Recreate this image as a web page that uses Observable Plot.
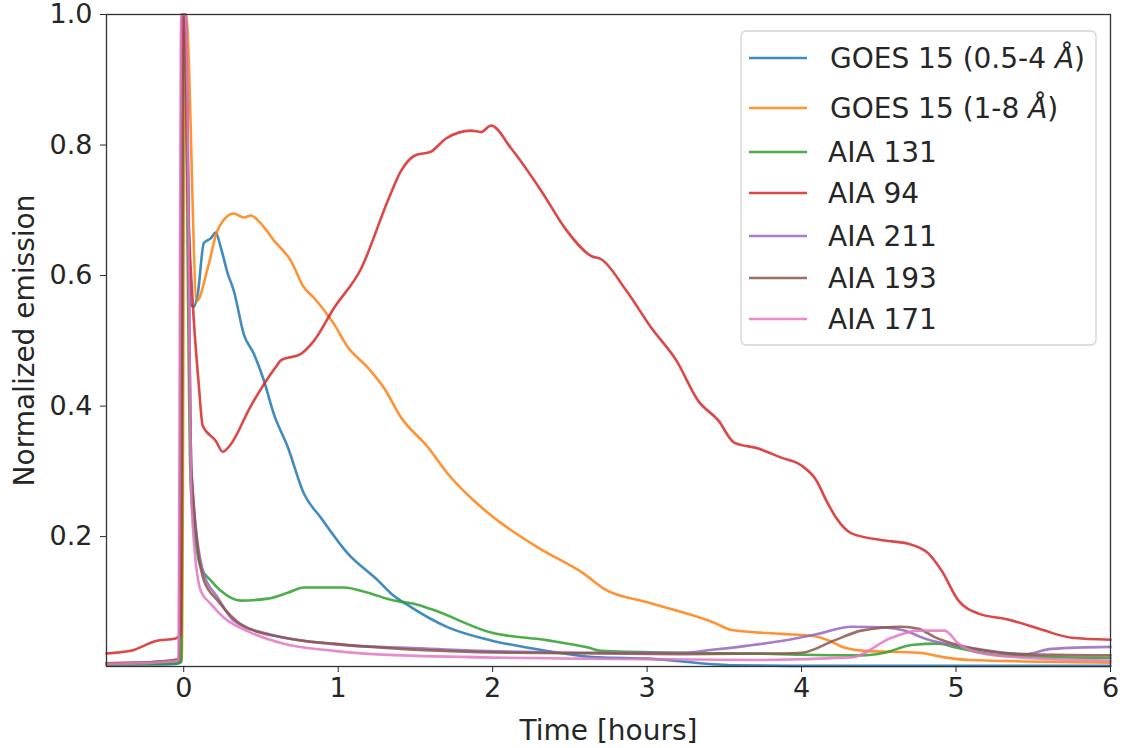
<!DOCTYPE html>
<html>
<head>
<meta charset="utf-8">
<script src="https://cdn.jsdelivr.net/npm/d3@7"></script>
<script src="https://cdn.jsdelivr.net/npm/@observablehq/plot@0.6"></script>
<style>
  html, body { margin: 0; padding: 0; background: #fff; }
  #chart { width: 1123px; height: 748px; }
  svg { font-family: "DejaVu Sans", sans-serif; }
</style>
</head>
<body>
<div id="chart"></div>
<script>
// ---- data: [time (hours), normalized emission] ----
const goes05_4 = [[-0.5,0.004],[-0.2,0.004],[-0.05,0.005],[-0.015,0.008],[0.0,1.0],[0.01,1.0],[0.045,0.556],[0.065,0.552],[0.091,0.572],[0.13,0.65],[0.175,0.657],[0.207,0.666],[0.24,0.643],[0.285,0.603],[0.324,0.577],[0.389,0.51],[0.454,0.48],[0.518,0.44],[0.583,0.388],[0.674,0.337],[0.778,0.266],[0.888,0.229],[1.063,0.174],[1.257,0.133],[1.342,0.113],[1.471,0.092],[1.711,0.061],[1.99,0.041],[2.249,0.029],[2.683,0.015],[3.007,0.013],[3.545,0.003],[4.0,0.002],[6.0,0.002]];
const goes1_8 = [[-0.5,0.006],[-0.2,0.007],[-0.05,0.009],[-0.01,0.012],[0.005,1.0],[0.015,1.0],[0.085,0.561],[0.156,0.612],[0.22,0.67],[0.324,0.695],[0.389,0.689],[0.434,0.692],[0.499,0.68],[0.583,0.654],[0.693,0.623],[0.778,0.582],[0.843,0.566],[0.972,0.526],[1.063,0.49],[1.192,0.459],[1.296,0.428],[1.406,0.383],[1.581,0.337],[1.711,0.296],[1.879,0.255],[2.009,0.229],[2.294,0.183],[2.592,0.143],[2.722,0.12],[3.007,0.099],[3.435,0.068],[3.545,0.057],[3.869,0.051],[4.064,0.048],[4.174,0.041],[4.277,0.03],[4.407,0.025],[4.757,0.022],[4.926,0.015],[5.081,0.011],[6.0,0.007]];
const aia131 = [[-0.5,0.004],[-0.05,0.006],[-0.015,0.01],[-0.003,1.0],[0.003,1.0],[0.045,0.28],[0.11,0.153],[0.175,0.133],[0.24,0.117],[0.369,0.102],[0.544,0.105],[0.674,0.114],[0.778,0.122],[1.037,0.122],[1.192,0.114],[1.361,0.102],[1.491,0.097],[1.601,0.089],[1.99,0.053],[2.359,0.041],[2.618,0.03],[2.703,0.025],[3.221,0.022],[3.869,0.02],[4.0,0.019],[4.387,0.018],[4.537,0.022],[4.712,0.034],[4.887,0.036],[5.0,0.03],[5.3,0.018],[6.0,0.014]];
const aia94 = [[-0.5,0.021],[-0.343,0.025],[-0.181,0.04],[-0.052,0.044],[-0.02,0.05],[-0.005,1.0],[0.005,1.0],[0.026,0.73],[0.058,0.56],[0.097,0.434],[0.123,0.37],[0.207,0.347],[0.253,0.33],[0.30,0.34],[0.434,0.40],[0.596,0.46],[0.629,0.47],[0.758,0.48],[0.843,0.50],[0.972,0.55],[1.147,0.61],[1.322,0.715],[1.406,0.76],[1.497,0.784],[1.601,0.79],[1.698,0.81],[1.86,0.822],[1.925,0.82],[1.99,0.83],[2.119,0.795],[2.314,0.73],[2.476,0.67],[2.638,0.63],[2.703,0.625],[2.865,0.577],[3.027,0.52],[3.189,0.47],[3.331,0.408],[3.461,0.378],[3.564,0.344],[3.72,0.335],[3.869,0.321],[3.999,0.309],[4.096,0.286],[4.161,0.255],[4.226,0.228],[4.323,0.205],[4.537,0.194],[4.692,0.189],[4.822,0.174],[4.906,0.148],[5.016,0.102],[5.146,0.082],[5.314,0.074],[5.47,0.064],[5.574,0.056],[5.749,0.045],[6.0,0.042]];
const aia211 = [[-0.5,0.006],[-0.2,0.008],[-0.03,0.012],[-0.01,1.0],[0.01,1.0],[0.05,0.3],[0.13,0.143],[0.22,0.107],[0.324,0.071],[0.544,0.051],[0.758,0.041],[1.082,0.033],[1.406,0.03],[1.925,0.025],[2.787,0.022],[3.221,0.022],[3.435,0.027],[3.655,0.033],[3.869,0.04],[4.109,0.051],[4.323,0.062],[4.537,0.061],[4.666,0.056],[4.796,0.044],[4.887,0.038],[5.081,0.03],[5.444,0.02],[5.619,0.028],[6.0,0.031]];
const aia193 = [[-0.5,0.006],[-0.2,0.008],[-0.03,0.012],[-0.01,1.0],[0.01,1.0],[0.05,0.3],[0.13,0.133],[0.22,0.102],[0.369,0.066],[0.648,0.045],[0.972,0.036],[1.406,0.028],[2.139,0.022],[3.221,0.02],[3.869,0.021],[3.999,0.022],[4.213,0.041],[4.387,0.056],[4.647,0.062],[4.757,0.059],[4.861,0.046],[5.081,0.03],[5.405,0.02],[6.0,0.018]];
const aia171 = [[-0.5,0.005],[-0.2,0.007],[-0.035,0.01],[-0.016,1.0],[0.014,1.0],[0.05,0.25],[0.11,0.117],[0.175,0.097],[0.259,0.076],[0.434,0.053],[0.648,0.036],[0.972,0.025],[1.406,0.018],[2.573,0.013],[3.675,0.011],[4.323,0.015],[4.582,0.045],[4.757,0.056],[4.926,0.056],[5.016,0.036],[5.146,0.022],[5.405,0.015],[6.0,0.01]];

const seriesNames = ["GOES 15 (0.5-4 Å)", "GOES 15 (1-8 Å)", "AIA 131", "AIA 94", "AIA 211", "AIA 193", "AIA 171"];
const seriesColors = ["#1f77b4", "#ff7f0e", "#2ca02c", "#d62728", "#9467bd", "#8c564b", "#e377c2"];
const seriesData = [goes05_4, goes1_8, aia131, aia94, aia211, aia193, aia171];
const xTicks = [0, 1, 2, 3, 4, 5, 6];
const yTicks = [0.2, 0.4, 0.6, 0.8, 1.0];

const rows = seriesData.flatMap((d, i) => d.map(([t, v]) => ({t, v, name: seriesNames[i]})));

const W = 1123, H = 748;
const mL = 106, mR = 13, mT = 14, mB = 82;
const FS = 27, LFS = 28;

const chart = Plot.plot({
  width: W, height: H,
  marginLeft: mL, marginRight: mR, marginTop: mT, marginBottom: mB,
  style: {fontFamily: "DejaVu Sans, sans-serif", fontSize: FS + "px", color: "#262626", background: "#fff", overflow: "visible"},
  x: {domain: [-0.5, 6]},
  y: {domain: [0.001, 1]},
  color: {domain: seriesNames, range: seriesColors},
  marks: [
    Plot.line(rows, {x: "t", y: "v", z: "name", stroke: "name", strokeWidth: 2.6, strokeOpacity: 0.85, curve: "monotone-x"}),
    Plot.frame({stroke: "#333", strokeWidth: 1.3}),
    Plot.axisX({ticks: xTicks, tickSize: 6, tickPadding: 5, fontSize: FS, tickFormat: d3.format("d"), label: null}),
    Plot.axisX({ticks: [], label: "Time [hours]", labelAnchor: "center", labelArrow: "none", labelOffset: 73, fontSize: LFS}),
    Plot.axisY({ticks: yTicks, tickSize: 6, tickPadding: 8, fontSize: FS, tickFormat: d3.format(".1f"), label: null}),
    Plot.axisY({ticks: [], label: "Normalized emission", labelAnchor: "center", labelArrow: "none", labelOffset: 92, fontSize: LFS})
  ]
});
document.getElementById("chart").appendChild(chart);

// ---- legend (matplotlib style, upper right) ----
const svg = d3.select(chart);
const lg = svg.append("g").attr("class", "legend").attr("text-anchor", "start");
lg.append("rect").attr("x", 741).attr("y", 31).attr("width", 355).attr("height", 314)
  .attr("rx", 5).attr("fill", "#fff").attr("fill-opacity", 0.85).attr("stroke", "#d4d4d4").attr("stroke-width", 1.3);
const rowY = [58, 108, 152, 193, 236, 278, 319];
seriesNames.forEach((name, i) => {
  const y = rowY[i];
  lg.append("line").attr("x1", 749).attr("x2", 807).attr("y1", y).attr("y2", y)
    .attr("stroke", seriesColors[i]).attr("stroke-width", 2.6).attr("stroke-opacity", 0.85);
  const t = lg.append("text").attr("x", i < 2 ? 830 : 828).attr("y", y + 10)
    .attr("text-anchor", "start")
    .attr("font-size", LFS).attr("fill", "#262626").attr("font-family", "DejaVu Sans, sans-serif");
  if (name.includes("Å")) {
    const [pre, post] = name.split("Å");
    t.append("tspan").text(pre);
    t.append("tspan").attr("font-style", "italic").text("Å");
    t.append("tspan").text(post);
  } else {
    t.text(name);
  }
});
</script>
</body>
</html>
